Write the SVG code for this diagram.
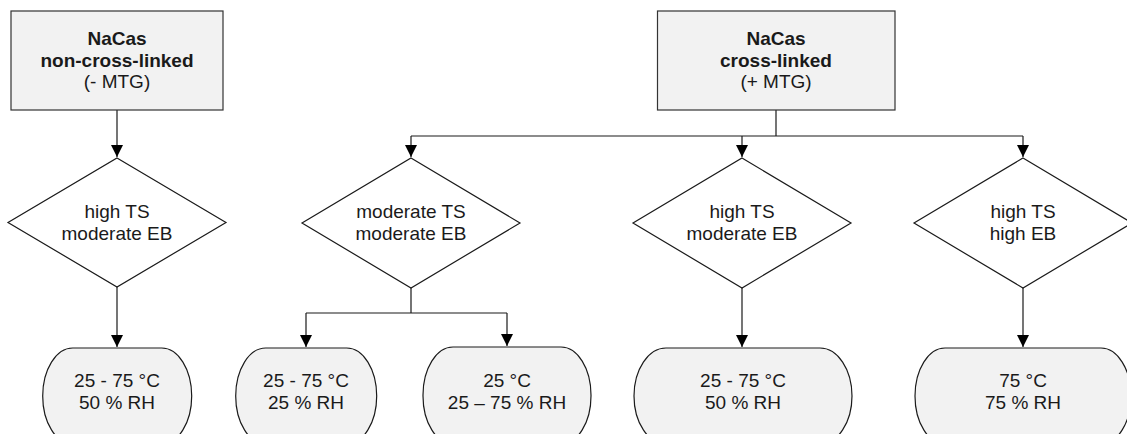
<svg xmlns="http://www.w3.org/2000/svg" width="1127" height="434" viewBox="0 0 1127 434">
  <style>
    .box { fill: #f2f2f2; stroke: #333333; stroke-width: 1.2; }
    .dia { fill: #ffffff; stroke: #1a1a1a; stroke-width: 1.2; }
    .pill { fill: #f2f2f2; stroke: #1a1a1a; stroke-width: 1.2; }
    .wire { fill: none; stroke: #1a1a1a; stroke-width: 1.2; }
    text { font-family: "Liberation Sans", Arial, sans-serif; font-size: 19px; fill: #1a1a1a; text-anchor: middle; }
    .b { font-weight: bold; }
  </style>
  <defs>
    <marker id="arrow" viewBox="0 0 12 12" refX="12" refY="6" markerWidth="12" markerHeight="12" markerUnits="userSpaceOnUse" orient="auto">
      <path d="M0,0 L12,6 L0,12 Z" fill="#000000"/>
    </marker>
  </defs>
  <rect width="1127" height="434" fill="#ffffff"/>

  <!-- connectors -->
  <g id="connectors">
    <path class="wire" d="M117,110 V157" marker-end="url(#arrow)"/>
    <path class="wire" d="M117,287 V347" marker-end="url(#arrow)"/>
    <path class="wire" d="M776,110 V136"/>
    <path class="wire" d="M411,136 H1023"/>
    <path class="wire" d="M411,136 V157" marker-end="url(#arrow)"/>
    <path class="wire" d="M742,136 V157" marker-end="url(#arrow)"/>
    <path class="wire" d="M1023,136 V157" marker-end="url(#arrow)"/>
    <path class="wire" d="M411,288 V313 M306,313 H507"/>
    <path class="wire" d="M306,313 V347" marker-end="url(#arrow)"/>
    <path class="wire" d="M507,313 V346" marker-end="url(#arrow)"/>
    <path class="wire" d="M742,288 V347" marker-end="url(#arrow)"/>
    <path class="wire" d="M1023,288 V347" marker-end="url(#arrow)"/>
  </g>

  <!-- source materials -->
  <g id="nacas-noncrosslinked">
    <rect class="box" x="11" y="11" width="212" height="99"/>
    <text x="117" y="45" class="b">NaCas</text>
    <text x="117" y="66.7" class="b">non-cross-linked</text>
    <text x="117" y="88">(- MTG)</text>
  </g>
  <g id="nacas-crosslinked">
    <rect class="box" x="657.5" y="11" width="237.5" height="99"/>
    <text x="776" y="45" class="b">NaCas</text>
    <text x="776" y="66.7" class="b">cross-linked</text>
    <text x="776" y="88">(+ MTG)</text>
  </g>

  <!-- property decisions -->
  <g id="dia-high-ts-mod-eb-1">
    <polygon class="dia" points="117,158 226,222.5 117,287 8,222.5"/>
    <text x="117" y="218.3">high TS</text>
    <text x="117" y="240">moderate EB</text>
  </g>
  <g id="dia-mod-ts-mod-eb">
    <polygon class="dia" points="411,158 520,223 411,288 302,223"/>
    <text x="411" y="218.3">moderate TS</text>
    <text x="411" y="240">moderate EB</text>
  </g>
  <g id="dia-high-ts-mod-eb-2">
    <polygon class="dia" points="742,158 851,223 742,288 633,223"/>
    <text x="742" y="218.3">high TS</text>
    <text x="742" y="240">moderate EB</text>
  </g>
  <g id="dia-high-ts-high-eb">
    <polygon class="dia" points="1023,158 1132,223 1023,288 914,223"/>
    <text x="1023" y="218.3">high TS</text>
    <text x="1023" y="240">high EB</text>
  </g>

  <!-- storage conditions -->
  <g id="cond-1">
    <rect class="pill" x="42.7" y="348" width="149" height="96" rx="30" ry="48"/>
    <text x="117" y="387.3">25 - 75 °C</text>
    <text x="117" y="409">50 % RH</text>
  </g>
  <g id="cond-2">
    <rect class="pill" x="235.7" y="348" width="141" height="96" rx="30" ry="48"/>
    <text x="306" y="387.3">25 - 75 °C</text>
    <text x="306" y="409">25 % RH</text>
  </g>
  <g id="cond-3">
    <rect class="pill" x="423" y="347" width="168" height="97" rx="30" ry="48"/>
    <text x="507" y="387">25 °C</text>
    <text x="507" y="409">25 – 75 % RH</text>
  </g>
  <g id="cond-4">
    <rect class="pill" x="634" y="348" width="218" height="96" rx="32" ry="48"/>
    <text x="743" y="387.3">25 - 75 °C</text>
    <text x="743" y="409">50 % RH</text>
  </g>
  <g id="cond-5">
    <rect class="pill" x="915" y="348" width="216" height="96" rx="30" ry="48"/>
    <text x="1023" y="387.3">75 °C</text>
    <text x="1023" y="409">75 % RH</text>
  </g>
</svg>
